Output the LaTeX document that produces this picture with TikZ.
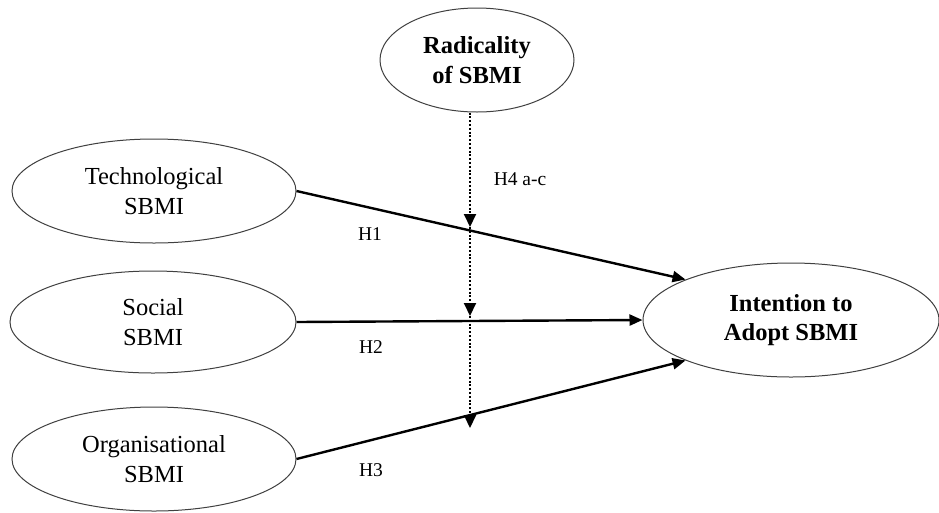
\documentclass[tikz,border=0pt]{standalone}
\usepackage{fontspec}
\setmainfont{Liberation Serif}
\usetikzlibrary{shapes.geometric,arrows.meta}
\begin{document}
\begin{tikzpicture}[x=1pt,y=-1pt,
  oval/.style={ellipse, draw=black!75, line width=1pt, align=center, inner sep=0pt,
    font=\fontsize{24.5}{29.5}\selectfont},
  boldoval/.style={oval, font=\fontsize{24.5}{29.5}\selectfont\bfseries},
  path/.style={line width=2.4pt, -{Triangle[length=13pt,width=11pt]}},
  dotline/.style={line width=2pt, dash pattern=on 2pt off 1.8pt, -{Triangle[length=13pt,width=12pt]}},
  lab/.style={font=\fontsize{19.5}{23}\selectfont, inner sep=0pt}]
\useasboundingbox (0,0) rectangle (939,512);
\fill[white] (0,0) rectangle (939,512);
\node[boldoval, minimum width=194pt, minimum height=104pt] (R) at (477,60) {Radicality\\of SBMI};
\node[oval, minimum width=284pt, minimum height=104pt] (T) at (154,191) {Technological\\SBMI};
\node[oval, minimum width=286pt, minimum height=102pt] (S) at (153,322) {Social\\SBMI};
\node[oval, minimum width=284pt, minimum height=104pt] (O) at (154,459) {Organisational\\SBMI};
\node[boldoval, minimum width=296pt, minimum height=114pt] (I) at (791,320) {Intention to\\Adopt SBMI};
\draw[path] (T.east) -- (I.159.9);
\draw[path] (S.east) -- (I.west);
\draw[path] (O.east) -- (I.201);
\coordinate (d1) at (470,227);
\coordinate (d2) at (470,316);
\coordinate (d3) at (470,428);
\draw[dotline] (R.south -| d1) -- (d1);
\draw[dotline] (d1) -- (d2);
\draw[dotline] (d2) -- (d3);
\node[lab] (h4) at (520,179) {H4 a-c};
\node[lab] (h1) at (370,234) {H1};
\node[lab] (h2) at (371,347) {H2};
\node[lab] (h3) at (371,470) {H3};
\end{tikzpicture}
\end{document}
